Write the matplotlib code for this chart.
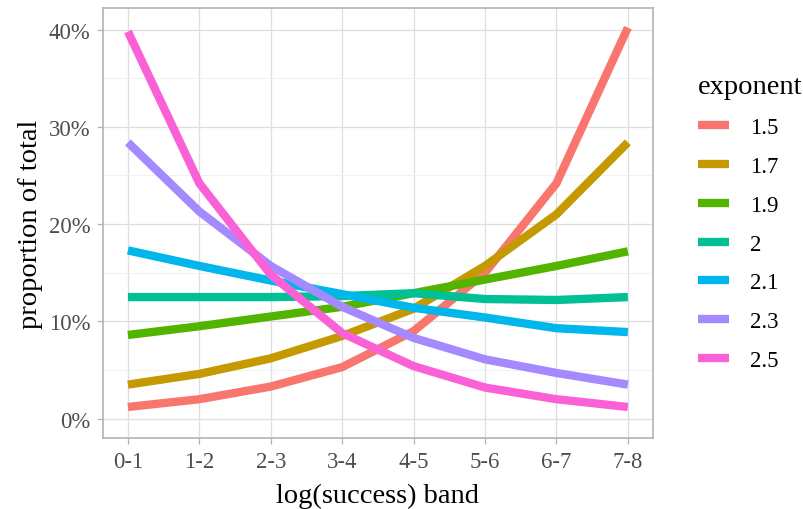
import matplotlib
matplotlib.use('Agg')
import matplotlib.pyplot as plt
from matplotlib.ticker import PercentFormatter, MultipleLocator

# values (proportion of total per band)
bands = ['0-1', '1-2', '2-3', '3-4', '4-5', '5-6', '6-7', '7-8']
exponents = ['1.5', '1.7', '1.9', '2', '2.1', '2.3', '2.5']
colors = ['#F8766D', '#C49A00', '#53B400', '#00C094', '#00B6EB', '#A58AFF', '#FB61D7']

p15 = [0.012, 0.020, 0.033, 0.053, 0.090, 0.150, 0.242, 0.402]
p17 = [0.035, 0.046, 0.062, 0.085, 0.113, 0.157, 0.210, 0.284]
p19 = [0.086, 0.095, 0.105, 0.115, 0.129, 0.143, 0.157, 0.172]
p20 = [0.125, 0.125, 0.125, 0.126, 0.129, 0.123, 0.122, 0.125]
p21 = [0.173, 0.157, 0.142, 0.128, 0.114, 0.104, 0.093, 0.089]
p23 = [0.284, 0.213, 0.157, 0.115, 0.083, 0.061, 0.047, 0.035]
p25 = [0.398, 0.242, 0.148, 0.088, 0.054, 0.032, 0.020, 0.012]
series = [p15, p17, p19, p20, p21, p23, p25]

plt.rcParams['font.family'] = ['Liberation Serif', 'DejaVu Serif']

fig = plt.figure(figsize=(8.04, 5.10), dpi=100)
ax = fig.add_axes([0.128, 0.139, 0.684, 0.843])

x = list(range(len(bands)))
for name, vals, col in zip(exponents, series, colors):
    ax.plot(x, vals, color=col, lw=6, label=name, solid_capstyle='butt', solid_joinstyle='round')

ax.set_xlim(-0.35, 7.35)
ax.set_ylim(-0.02, 0.422)
ax.set_xticks(x)
ax.set_xticklabels(bands)
ax.yaxis.set_major_locator(MultipleLocator(0.1))
ax.yaxis.set_minor_locator(MultipleLocator(0.05))
ax.yaxis.set_major_formatter(PercentFormatter(1.0, decimals=0))

ax.grid(which='major', color='#DEDEDE', lw=0.9)
ax.grid(which='minor', axis='y', color='#EFEFEF', lw=0.6)
ax.set_axisbelow(True)
for s in ax.spines.values():
    s.set_color('#B3B3B3')
    s.set_linewidth(1.2)
ax.tick_params(which='major', color='#B3B3B3', length=4, width=0.9,
               labelsize=16.4, labelcolor='#4D4D4D')
ax.tick_params(axis='x', pad=5)
ax.tick_params(axis='y', pad=5)
ax.tick_params(which='minor', length=0)

ax.set_xlabel('log(success) band', fontsize=20.5, labelpad=8)
ax.set_ylabel('proportion of total', fontsize=20.5, labelpad=4)

leg = fig.legend(title='exponent', loc='upper left', bbox_to_anchor=(0.868, 0.852),
                 frameon=False, fontsize=16.4, title_fontsize=20.5,
                 borderpad=0, borderaxespad=0,
                 handlelength=1.36, handletextpad=0.95, labelspacing=0.78)
leg._legend_box.align = 'left'

fig.savefig('out.png', dpi=100)
